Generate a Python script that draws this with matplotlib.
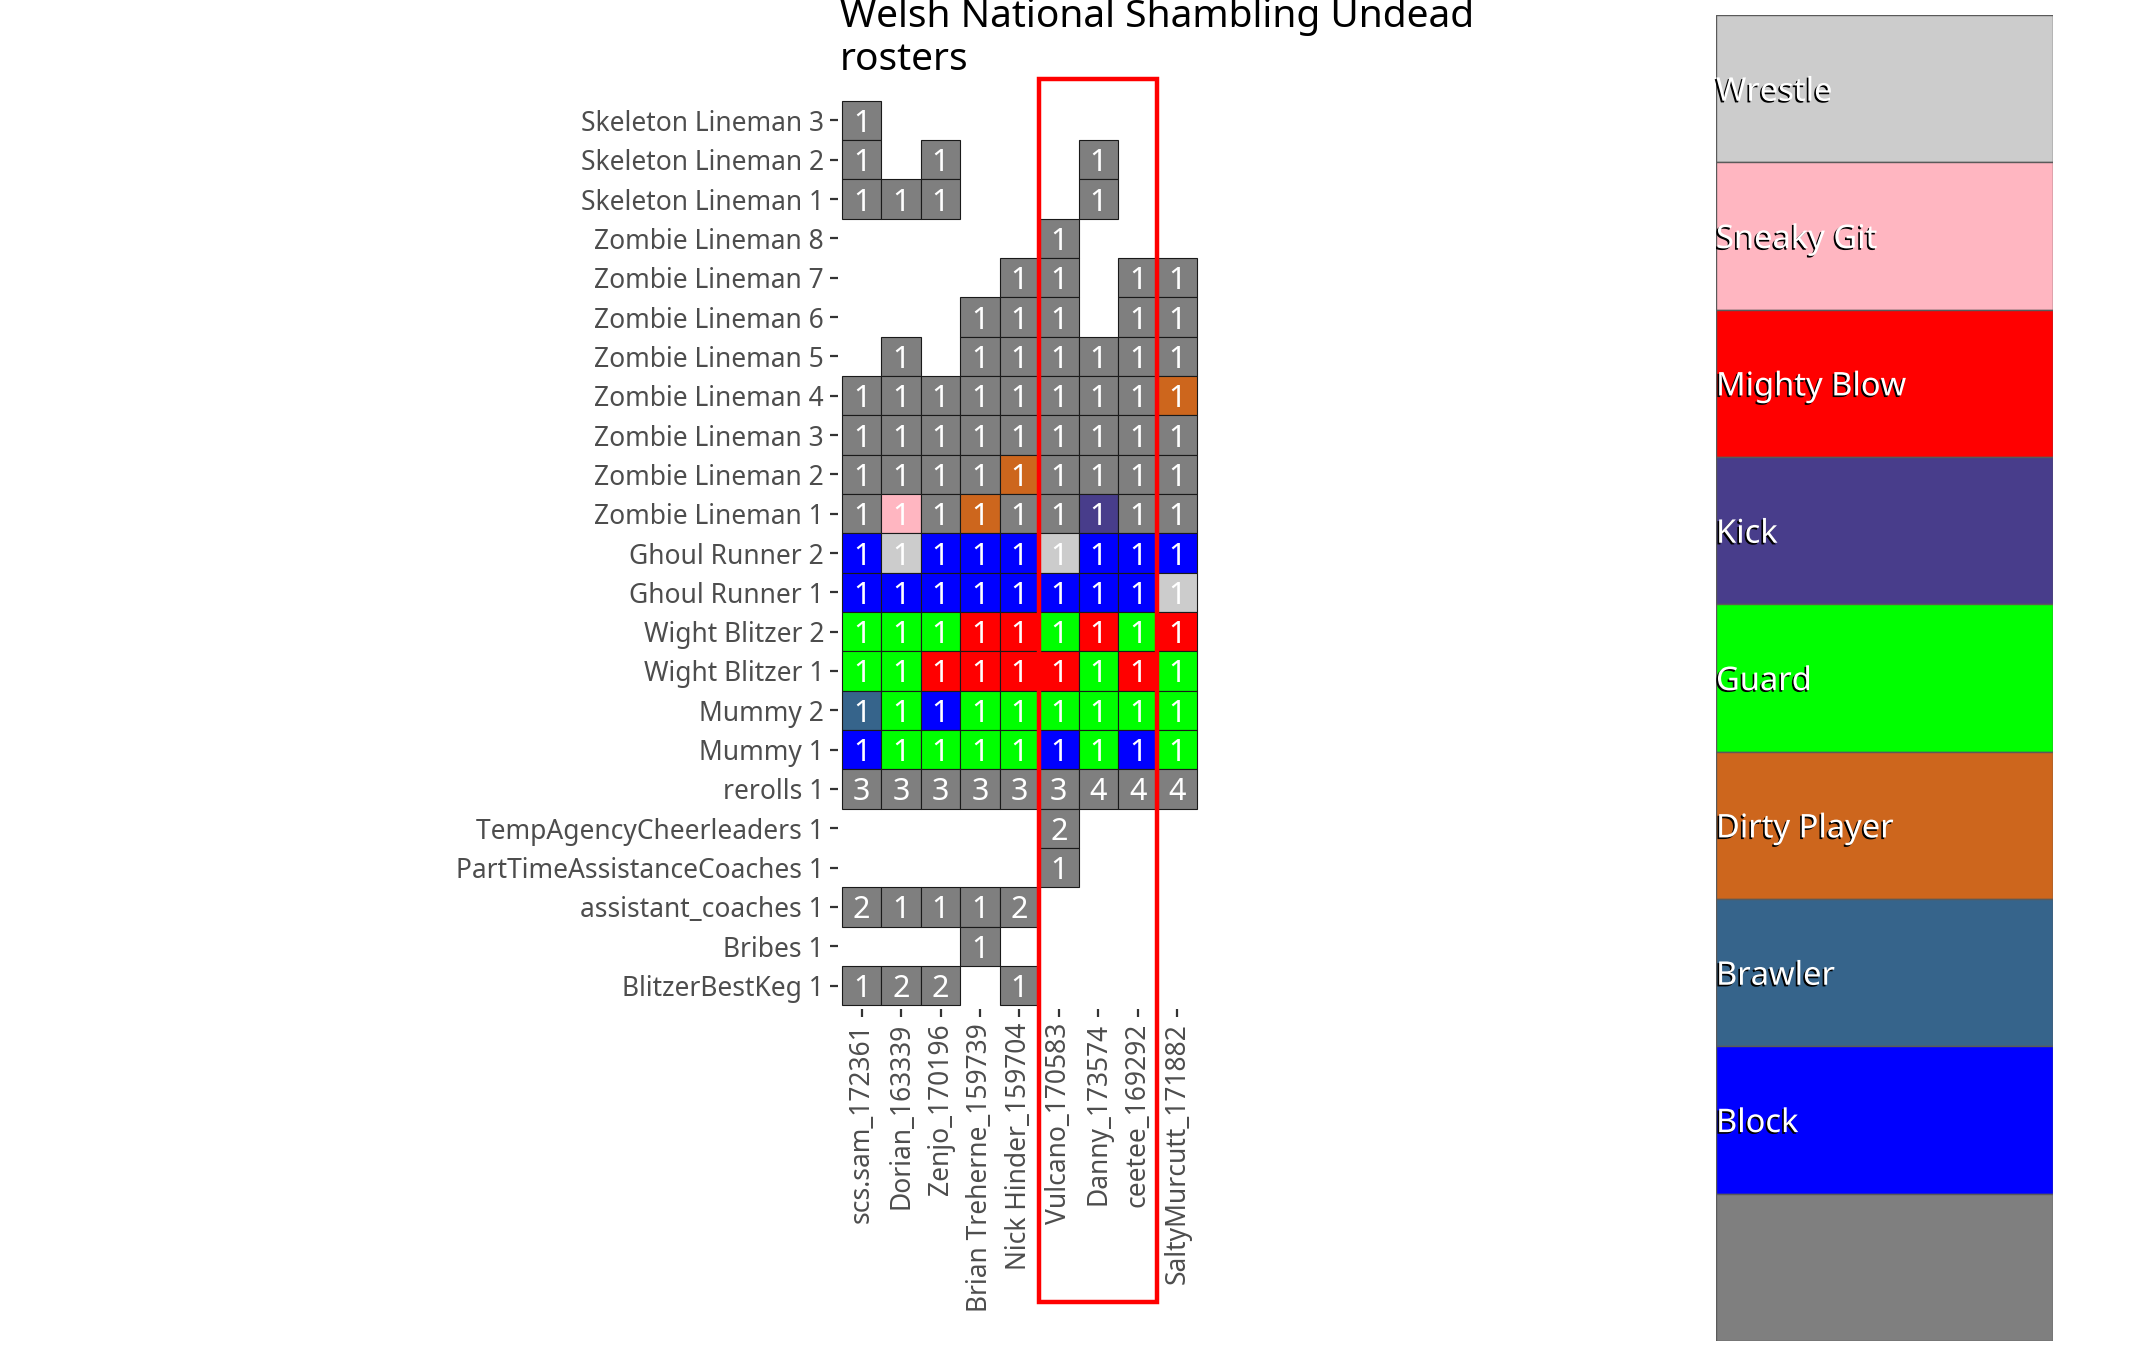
import matplotlib
matplotlib.use("Agg")
import matplotlib.pyplot as plt
from matplotlib.patches import Rectangle
import matplotlib.patheffects as pe

plt.rcParams['font.family'] = ['Noto Sans', 'DejaVu Sans']

# coaches (columns)
players = ["scs.sam_172361", "Dorian_163339", "Zenjo_170196", "Brian Treherne_159739",
           "Nick Hinder_159704", "Vulcano_170583", "Danny_173574", "ceetee_169292",
           "SaltyMurcutt_171882"]

# roster rows, top to bottom
rows = ["Skeleton Lineman 3", "Skeleton Lineman 2", "Skeleton Lineman 1",
        "Zombie Lineman 8", "Zombie Lineman 7", "Zombie Lineman 6", "Zombie Lineman 5",
        "Zombie Lineman 4", "Zombie Lineman 3", "Zombie Lineman 2", "Zombie Lineman 1",
        "Ghoul Runner 2", "Ghoul Runner 1", "Wight Blitzer 2", "Wight Blitzer 1",
        "Mummy 2", "Mummy 1", "rerolls 1", "TempAgencyCheerleaders 1",
        "PartTimeAssistanceCoaches 1", "assistant_coaches 1", "Bribes 1", "BlitzerBestKeg 1"]

# counts per cell ('.' = nothing)
counts = ["1........",
          "1.1...1..",
          "111...1..",
          ".....1...",
          "....11.11",
          "...111.11",
          ".1.111111",
          "111111111",
          "111111111",
          "111111111",
          "111111111",
          "111111111",
          "111111111",
          "111111111",
          "111111111",
          "111111111",
          "111111111",
          "333333444",
          ".....2...",
          ".....1...",
          "21112....",
          "...1.....",
          "122.1...."]

# skill per cell: N none, B Block, R Brawler, D Dirty Player, U Guard,
# K Kick, M Mighty Blow, S Sneaky Git, W Wrestle
skills = ["N........",
          "N.N...N..",
          "NNN...N..",
          ".....N...",
          "....NN.NN",
          "...NNN.NN",
          ".N.NNNNNN",
          "NNNNNNNND",
          "NNNNNNNNN",
          "NNNNDNNNN",
          "NSNDNNKNN",
          "BWBBBWBBB",
          "BBBBBBBBW",
          "UUUMMUMUM",
          "UUMMMMUMU",
          "RUBUUUUUU",
          "BUUUUBUBU",
          "NNNNNNNNN",
          ".....N...",
          ".....N...",
          "NNNNN....",
          "...N.....",
          "NNN.N...."]

skill_codes = ["W", "S", "M", "K", "U", "D", "R", "B", "N"]
skill_names = ["Wrestle", "Sneaky Git", "Mighty Blow", "Kick", "Guard",
               "Dirty Player", "Brawler", "Block", ""]
skill_colors = ["#CCCCCC", "#FFB6C1", "#FF0000", "#483D8B", "#00FF00",
                "#CD661D", "#36648B", "#0000FF", "#7F7F7F"]
col_of = dict(zip(skill_codes, skill_colors))

# highlighted coaches
box_from, box_to = "Vulcano_170583", "ceetee_169292"

W, H = 2152, 1356
fig = plt.figure(figsize=(W / 100, H / 100), dpi=100)

ax = fig.add_axes([838 / W, 1 - 1009.2 / H, 362.8 / W, 912.4 / H])
for r in range(len(rows)):
    for c in range(len(players)):
        v = counts[r][c]
        if v == ".":
            continue
        ax.add_patch(Rectangle((c - 0.5, r - 0.5), 1, 1, facecolor=col_of[skills[r][c]],
                               edgecolor="#1a1a1a", linewidth=0.8, zorder=2))
        ax.text(c, r, v, color="white", fontsize=22, ha="center", va="center_baseline", zorder=3)

ax.set_xlim(-0.6, len(players) - 0.4)
ax.set_ylim(len(rows) - 0.4, -0.6)
ax.set_xticks(range(len(players)))
ax.set_xticklabels(players, rotation=90)
ax.set_yticks(range(len(rows)))
ax.set_yticklabels(rows)
ax.tick_params(length=6, width=1.6, color="#333333", labelcolor="#4D4D4D",
               labelsize=19, pad=4)
for s in ax.spines.values():
    s.set_visible(False)

i0, i1 = players.index(box_from), players.index(box_to)
ax.add_patch(Rectangle((i0 - 0.5, -1.05), i1 - i0 + 1, 31.09, fill=False,
                       edgecolor="#FF0000", linewidth=3.2, clip_on=False, zorder=5))

fig.text(840 / W, 1 - 27 / H, "Welsh National Shambling Undead", fontsize=28, va="baseline")
fig.text(840 / W, 1 - 70 / H, "rosters", fontsize=28, va="baseline")

# legend panel
lg = fig.add_axes([1716 / W, 1 - 1341 / H, 337 / W, 1326 / H])
for i, (name, colr) in enumerate(zip(skill_names, skill_colors)):
    lg.add_patch(Rectangle((0, i), 1, 1, facecolor=colr, edgecolor="#5a5a5a", linewidth=1.0))
    if name:
        lg.text(0, i + 0.5 + 0.082, name, color="white", fontsize=23.5, ha="left", va="baseline",
                path_effects=[pe.SimplePatchShadow(offset=(-1.2, -1.2), shadow_rgbFace="black", alpha=1.0),
                              pe.Normal()])
lg.set_xlim(0, 1)
lg.set_ylim(len(skill_names), 0)
lg.axis("off")

fig.savefig("out.png", dpi=100)
